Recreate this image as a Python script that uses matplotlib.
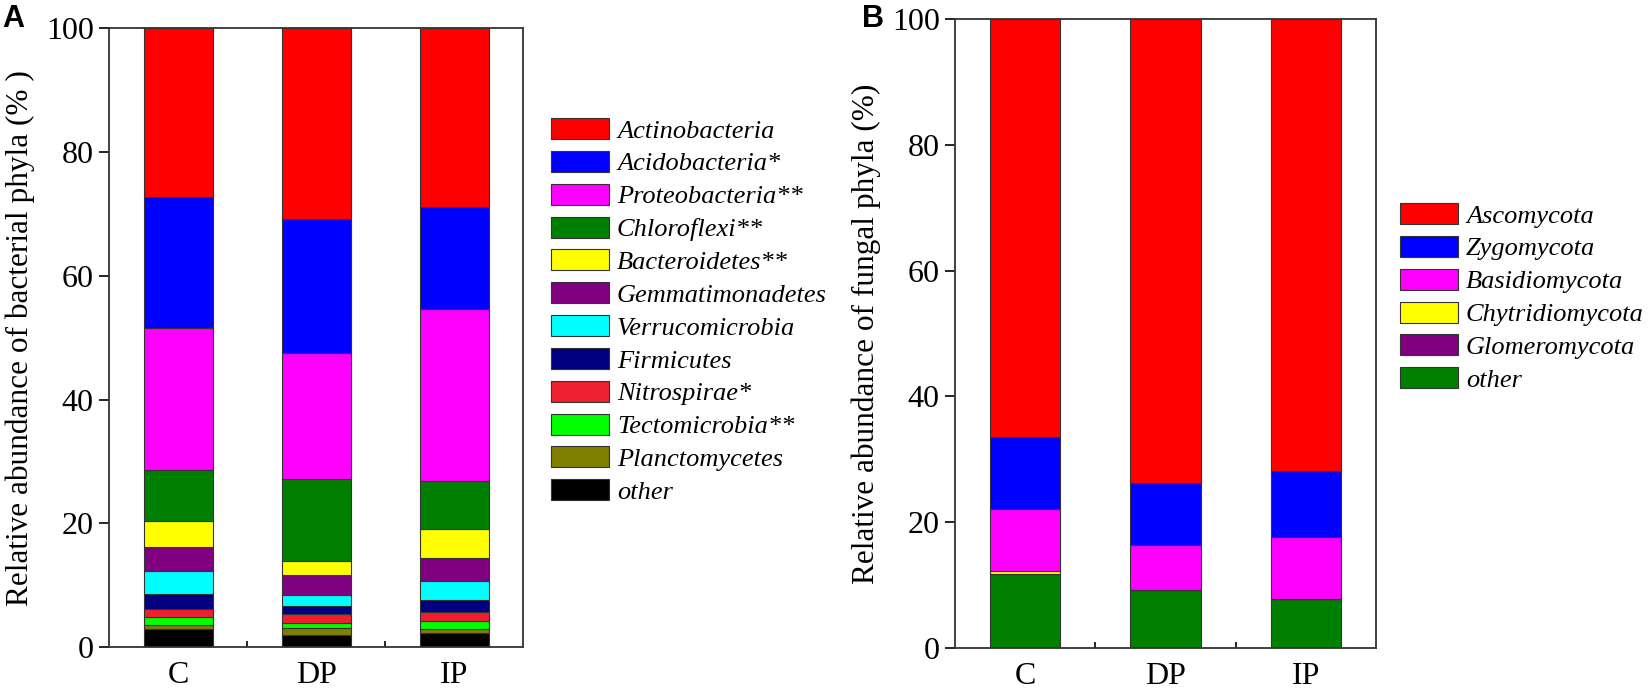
import matplotlib
matplotlib.use("Agg")
import matplotlib.pyplot as plt
import numpy as np

# ---------------- data ----------------
groups = ["C", "DP", "IP"]

bact_names = ["Actinobacteria", "Acidobacteria*", "Proteobacteria**", "Chloroflexi**",
              "Bacteroidetes**", "Gemmatimonadetes", "Verrucomicrobia", "Firmicutes",
              "Nitrospirae*", "Tectomicrobia**", "Planctomycetes", "other"]
bact_colors = ["#ff0000", "#0000ff", "#ff00ff", "#008000", "#ffff00", "#800080",
               "#00ffff", "#000080", "#ee2030", "#00ff00", "#808000", "#000000"]
# values per phylum for C, DP, IP (%)
actinobacteria   = [27.2, 30.8, 28.9]
acidobacteria    = [21.2, 21.7, 16.4]
proteobacteria   = [23.0, 20.3, 27.8]
chloroflexi      = [8.3, 13.3, 7.9]
bacteroidetes    = [4.2, 2.3, 4.6]
gemmatimonadetes = [3.8, 3.2, 3.8]
verrucomicrobia  = [3.8, 1.8, 3.0]
firmicutes       = [2.4, 1.3, 1.9]
nitrospirae      = [1.2, 1.5, 1.5]
tectomicrobia    = [1.4, 0.7, 1.3]
planctomycetes   = [0.6, 1.1, 0.6]
bact_other       = [2.9, 2.0, 2.3]
bact_values = [actinobacteria, acidobacteria, proteobacteria, chloroflexi, bacteroidetes,
               gemmatimonadetes, verrucomicrobia, firmicutes, nitrospirae, tectomicrobia,
               planctomycetes, bact_other]

fung_names = ["Ascomycota", "Zygomycota", "Basidiomycota", "Chytridiomycota",
              "Glomeromycota", "other"]
fung_colors = ["#ff0000", "#0000ff", "#ff00ff", "#ffff00", "#800080", "#008000"]
ascomycota      = [66.5, 73.7, 71.8]
zygomycota      = [11.4, 10.0, 10.6]
basidiomycota   = [9.8, 7.1, 9.8]
chytridiomycota = [0.6, 0.0, 0.0]
glomeromycota   = [0.0, 0.0, 0.0]
fung_other      = [11.7, 9.2, 7.8]
fung_values = [ascomycota, zygomycota, basidiomycota, chytridiomycota, glomeromycota, fung_other]

yticks = [0, 20, 40, 60, 80, 100]

# ---------------- figure ----------------
plt.rcParams['font.family'] = ['Liberation Serif', 'DejaVu Serif']
fig = plt.figure(figsize=(16.5, 6.89), dpi=100)

axA = fig.add_axes([0.0661, 0.0610, 0.2509, 0.8979])
axB = fig.add_axes([0.5788, 0.0595, 0.2552, 0.9129])

x = np.arange(len(groups))


def stacked(ax, names, colors, values, ylabel):
    # stack from bottom: last series first
    bottom = np.zeros(len(groups))
    handles = {}
    for name, col, vals in reversed(list(zip(names, colors, values))):
        v = np.array(vals, dtype=float)
        b = ax.bar(x, v, bottom=bottom, width=0.5, color=col,
                   edgecolor="#333333", linewidth=0.8, label=name)
        handles[name] = b
        bottom += v
    ax.set_xlim(-0.5, 2.5)
    ax.set_ylim(0, 100)
    ax.set_yticks(yticks)
    ax.set_xticks(x)
    ax.set_xticklabels(groups)
    ax.set_xticks([0.5, 1.5], minor=True)
    ax.tick_params(axis='y', direction='out', length=7, width=1.2, labelsize=23, pad=4)
    ax.tick_params(axis='x', which='major', length=0, labelsize=23, pad=10)
    ax.tick_params(axis='x', which='minor', direction='in', length=4, width=1.2)
    ax.tick_params(axis='y', which='minor', left=False)
    for s in ax.spines.values():
        s.set_linewidth(1.3)
        s.set_color("#333333")
    ax.set_ylabel(ylabel, fontsize=22.5, labelpad=8)
    return [handles[n] for n in names]


hA = stacked(axA, bact_names, bact_colors, bact_values,
             "Relative abundance of bacterial phyla (% )")
hB = stacked(axB, fung_names, fung_colors, fung_values,
             "Relative abundance of fungal phyla (%)")

legkw = dict(frameon=False, prop={'family': 'Liberation Serif', 'style': 'italic', 'size': 19},
             handlelength=2.2, handleheight=0.85, labelspacing=0.31,
             handletextpad=0.3, borderpad=0, borderaxespad=0)
fig.legend(hA, bact_names, loc='upper left',
           bbox_to_anchor=(551 / 1650, 1 - 118 / 689), **legkw)
fig.legend(hB, fung_names, loc='upper left',
           bbox_to_anchor=(1400 / 1650, 1 - 203 / 689), **legkw)

fig.text(2 / 1650, 1 - 4 / 689, "A", fontsize=22, fontweight='bold',
         family='Liberation Sans', va='top', ha='left')
fig.text(862 / 1650, 1 - 4 / 689, "B", fontsize=22, fontweight='bold',
         family='Liberation Sans', va='top', ha='left')

fig.savefig("out.png", dpi=100)
